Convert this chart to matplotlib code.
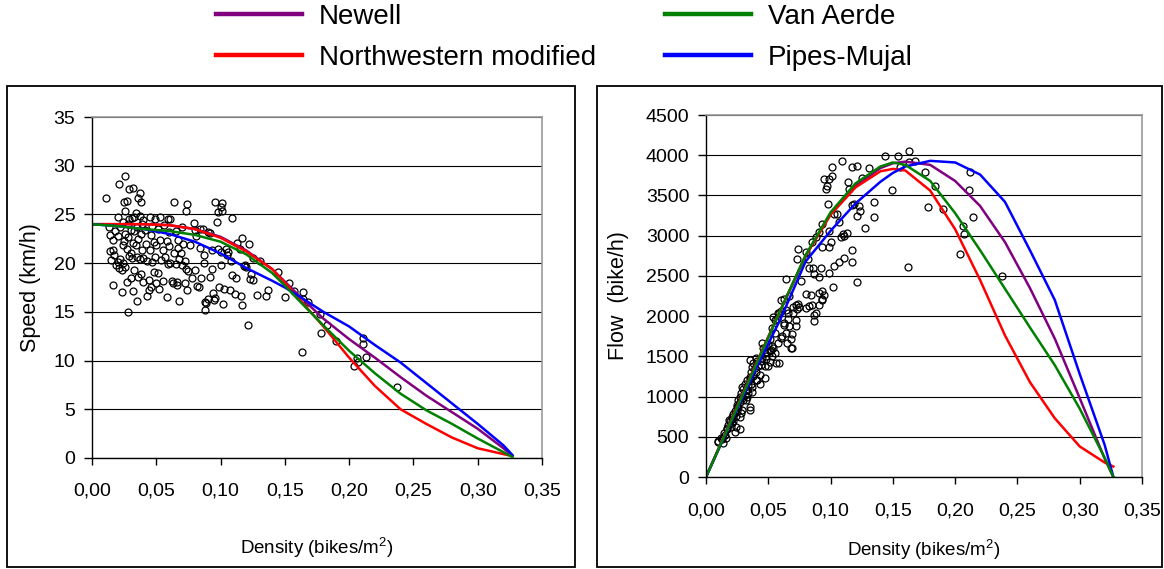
import numpy as np
import matplotlib.pyplot as plt
from matplotlib.patches import Rectangle
from matplotlib.lines import Line2D
from matplotlib.ticker import FuncFormatter, MultipleLocator

plt.rcParams['font.family'] = ['Liberation Sans', 'DejaVu Sans']
plt.rcParams['mathtext.fontset'] = 'custom'
plt.rcParams['mathtext.rm'] = 'Liberation Sans'

# observed speed-density points (left panel)
dens_obs_v = [0.011, 0.013, 0.014, 0.014, 0.015, 0.016, 0.016, 0.016, 0.017, 0.018, 0.019, 0.020, 0.020, 0.020,
              0.021, 0.021, 0.022, 0.022, 0.023, 0.023, 0.024, 0.024, 0.024, 0.025, 0.025, 0.026, 0.026, 0.026,
              0.026, 0.027, 0.027, 0.027, 0.028, 0.028, 0.028, 0.029, 0.029, 0.029, 0.030, 0.030, 0.030,
              0.031, 0.031, 0.032, 0.032, 0.032, 0.033, 0.033, 0.033, 0.034, 0.034, 0.035, 0.035, 0.035, 0.036,
              0.036, 0.036, 0.037, 0.037, 0.037, 0.038, 0.038, 0.038, 0.039, 0.039, 0.040, 0.040, 0.040,
              0.041, 0.042, 0.043, 0.043, 0.044, 0.044, 0.045, 0.045, 0.046, 0.046, 0.047, 0.047, 0.048, 0.048,
              0.049, 0.049, 0.050, 0.050,
              0.051, 0.051, 0.052, 0.053, 0.053, 0.054, 0.055, 0.055, 0.056, 0.057, 0.058, 0.058, 0.059, 0.059,
              0.060, 0.060,
              0.061, 0.061, 0.062, 0.063, 0.064, 0.064, 0.065, 0.065, 0.066, 0.066, 0.067, 0.067, 0.068, 0.068,
              0.069, 0.070, 0.070,
              0.071, 0.072, 0.072, 0.073, 0.073, 0.074, 0.074, 0.075, 0.076, 0.078, 0.079, 0.080, 0.080,
              0.081, 0.082, 0.083, 0.084, 0.084, 0.085, 0.086, 0.087, 0.087, 0.088, 0.088, 0.089, 0.090, 0.090,
              0.092, 0.092, 0.093, 0.093, 0.094, 0.095, 0.096, 0.096, 0.097, 0.098, 0.098, 0.099, 0.100, 0.100,
              0.100,
              0.101, 0.101, 0.102, 0.103, 0.104, 0.105, 0.106, 0.107, 0.108, 0.109, 0.109, 0.111, 0.112, 0.113,
              0.115, 0.116, 0.117, 0.117, 0.118, 0.119, 0.120, 0.121, 0.122,
              0.123, 0.124, 0.125, 0.125, 0.128, 0.131, 0.135, 0.137, 0.145, 0.150, 0.153, 0.157, 0.164, 0.164,
              0.163, 0.168, 0.177, 0.178, 0.183, 0.190, 0.204, 0.206, 0.207, 0.211, 0.211, 0.213, 0.237]
speed_obs = [26.7, 23.7, 22.9, 21.2, 20.3, 22.4, 21.3, 17.8, 20.8, 23.3, 19.8, 24.7, 22.8, 20.1,
             28.1, 19.5, 23.7, 20.4, 19.3, 17.0, 24.2, 20.0, 21.9, 26.3, 22.3, 28.9, 25.4, 19.6,
             23.0, 26.4, 21.5, 18.1, 15.0, 22.7, 24.0, 27.6, 24.5, 20.7, 18.5, 23.4, 21.0,
             24.6, 20.5, 27.7, 17.1, 22.1, 24.7, 23.3, 19.3, 25.1, 21.9, 16.1, 20.6, 23.7, 26.7,
             18.6, 22.5, 27.2, 24.8, 20.4, 26.3, 18.9, 23.0, 21.3, 24.0, 24.4, 18.1, 20.5,
             23.4, 22.0, 16.6, 20.2, 18.3, 17.2, 24.7, 21.4, 22.9, 17.6, 20.1, 23.8, 19.1, 22.2,
             24.5, 20.6, 18.0, 21.9,
             19.0, 23.5, 17.3, 24.7, 22.4, 20.3, 18.2, 21.3, 23.9, 20.6, 22.3, 16.5, 24.5, 19.9,
             21.8, 23.2,
             24.5, 20.0, 18.2, 18.0, 26.3, 21.0, 23.3, 19.9, 17.8, 18.1, 21.6, 22.4, 16.1, 20.4,
             21.0, 19.8, 23.7,
             22.0, 18.0, 20.2, 25.4, 19.4, 26.1, 17.2, 19.2, 21.9, 18.5, 24.1, 23.4, 19.3,
             22.8, 17.7, 17.6, 23.5, 21.6, 18.5, 23.5, 20.0, 20.8, 15.2, 16.0, 15.9, 23.2, 16.3,
             23.1, 18.6, 19.4, 21.4, 16.9, 16.2, 26.3, 16.4, 24.2, 25.3, 21.5, 17.6, 25.8, 19.8,
             21.1,
             26.2, 25.4, 15.8, 17.3, 21.5, 20.8, 21.1, 17.2, 20.2, 24.6, 18.8, 16.8, 18.5, 22.1,
             21.5, 16.6, 22.6, 15.7, 19.7, 19.8, 19.6, 13.7, 22.0,
             18.4, 18.9, 20.5, 18.3, 16.7, 20.2, 16.6, 17.2, 19.1, 16.5, 18.0, 17.1, 17.0, 16.3,
             10.9, 16.0, 14.8, 12.8, 13.6, 12.0, 9.4, 10.3, 9.9, 12.3, 11.7, 10.4, 7.3]

# observed flow-density points (right panel)
dens_obs_q = [0.0094, 0.0134, 0.016, 0.0147, 0.0187, 0.021, 0.024, 0.021, 0.027, 0.029, 0.025, 0.032, 0.035,
              0.027, 0.033, 0.037, 0.029, 0.040, 0.035, 0.043, 0.047, 0.037, 0.044, 0.035, 0.040, 0.051,
              0.056, 0.047, 0.054, 0.058, 0.060, 0.064, 0.068, 0.055, 0.059, 0.064, 0.070, 0.075, 0.080,
              0.087, 0.063, 0.072, 0.023, 0.017, 0.012,
              0.010, 0.013, 0.015, 0.017, 0.018, 0.019, 0.020, 0.021, 0.022, 0.022, 0.023, 0.024, 0.025,
              0.025, 0.026, 0.026, 0.027, 0.028, 0.028, 0.029, 0.030, 0.030, 0.031, 0.031, 0.032, 0.033,
              0.033, 0.034, 0.034, 0.035, 0.036, 0.036, 0.037, 0.038, 0.038, 0.039, 0.040, 0.041, 0.041,
              0.042, 0.043, 0.044, 0.045, 0.046, 0.047, 0.048, 0.049, 0.050, 0.052, 0.053, 0.0276, 0.035,
              0.060, 0.063, 0.067, 0.072, 0.073, 0.074, 0.070, 0.066, 0.067, 0.072, 0.069, 0.068, 0.069,
              0.065, 0.061, 0.057, 0.054, 0.053, 0.055, 0.058, 0.060, 0.063, 0.066, 0.051, 0.053, 0.055,
              0.059, 0.051, 0.048, 0.050, 0.045,
              0.080, 0.084, 0.083, 0.085, 0.088, 0.087, 0.091, 0.093, 0.095, 0.093, 0.091, 0.093,
              0.103, 0.105, 0.107, 0.110, 0.113, 0.111, 0.108, 0.093, 0.091, 0.088, 0.099, 0.099, 0.100,
              0.093, 0.085, 0.074, 0.073, 0.080, 0.082, 0.083, 0.086, 0.087, 0.092, 0.091, 0.099, 0.103,
              0.107, 0.111, 0.117, 0.117, 0.121, 0.102, 0.064, 0.076,
              0.109, 0.101, 0.101, 0.099, 0.097, 0.096, 0.095, 0.098, 0.117, 0.121, 0.114, 0.115, 0.131,
              0.125, 0.117, 0.119, 0.123, 0.124, 0.121, 0.128, 0.135, 0.135, 0.144, 0.154, 0.156, 0.163,
              0.163, 0.168, 0.149, 0.176, 0.184, 0.178, 0.190, 0.162, 0.204, 0.206, 0.207, 0.212, 0.211,
              0.214, 0.238]
flow_obs = [443, 419, 481, 544, 709, 669, 627, 750, 750, 833, 875, 958, 875,
            1000, 1082, 1123, 1123, 1206, 1247, 1268, 1226, 1371, 1392, 1454, 1475, 1434,
            1413, 1537, 1600, 1661, 1723, 1785, 1600, 1952, 2035, 2075, 2117, 2117, 2097,
            2014, 1890, 1952, 564, 606, 481,
            430, 470, 520, 600, 650, 700, 620, 720, 690, 780, 820, 760, 900,
            820, 960, 870, 930, 1050, 800, 980, 1100, 960, 1020, 1160, 1080, 1200,
            1000, 1140, 1050, 1220, 1300, 1150, 1060, 1420, 1250, 1350, 1300, 1440, 1200,
            1380, 1150, 1440, 1480, 1600, 1380, 1500, 1550, 1650, 1580, 1500, 602, 839,
            2198, 2210, 2251, 2135, 2085, 2148, 2044, 2044, 1878, 1878, 1774, 1711, 1608,
            1670, 1753, 1961, 1994, 1857, 1795, 2044, 2064, 1919, 1961, 1711, 1628, 1545,
            1421, 1566, 1462, 1379, 1670,
            2272, 2260, 2127, 2139, 2044, 1940, 2293, 2314, 2260, 2202, 2143, 2210,
            3269, 3269, 3165, 3020, 3032, 2999, 2978, 3144, 3041, 2978, 3061, 2854, 2916,
            2854, 2916, 2833, 2708, 2791, 2708, 2604, 2604, 2521, 2596, 2480, 2542, 2625,
            2675, 2721, 2825, 2667, 2430, 2368, 2467, 2438,
            3934, 3851, 3747, 3705, 3614, 3581, 3705, 3394, 3851, 3872, 3664, 3581, 3838,
            3718, 3381, 3394, 3373, 3311, 3248, 3091, 3415, 3228, 3988, 3988, 3851, 4058,
            3913, 3930, 3568, 3788, 3622, 3352, 3331, 2605, 2771, 3124, 3016, 3788, 3568,
            3232, 2501]

# model curves
models = ['Newell', 'Northwestern modified', 'Van Aerde', 'Pipes-Mujal']
colors = ['#800080', '#ff0000', '#008000', '#0000ff']
dens_fit = [0, 0.02, 0.04, 0.06, 0.08, 0.10, 0.12, 0.14, 0.15, 0.16, 0.18, 0.20, 0.22, 0.24, 0.26, 0.28,
            0.30, 0.32, 0.327]
speed_newell = [24.0, 24.0, 24.0, 23.9, 23.5, 22.7, 21.3, 19.4, 18.1, 16.8, 14.3, 12.2, 10.3, 8.3, 6.4, 4.7,
                3.0, 1.0, 0.2]
speed_nw = [24.0, 24.0, 24.0, 23.9, 23.5, 22.6, 21.2, 19.4, 18.0, 16.5, 13.5, 10.3, 7.4, 5.0, 3.5, 2.1,
            1.0, 0.4, 0.2]
speed_va = [24.0, 23.8, 23.5, 23.3, 22.9, 22.2, 20.9, 19.0, 17.7, 16.3, 13.6, 11.0, 8.7, 6.6, 4.9, 3.5,
            2.0, 0.6, 0.1]
speed_pm = [24.0, 23.8, 23.5, 23.0, 22.2, 21.0, 19.5, 18.2, 17.5, 16.7, 15.0, 13.5, 11.6, 9.8, 7.7, 5.6,
            3.5, 1.3, 0.3]
flow_newell = [0, 700, 1400, 2080, 2750, 3270, 3620, 3840, 3900, 3920, 3880, 3680, 3370, 2920, 2350, 1720,
               980, 230, 0]
flow_nw = [0, 700, 1400, 2080, 2750, 3260, 3600, 3800, 3830, 3810, 3560, 3080, 2450, 1760, 1180, 730,
           380, 180, 130]
flow_va = [0, 690, 1390, 2080, 2760, 3290, 3650, 3860, 3910, 3880, 3680, 3280, 2820, 2340, 1860, 1390,
           850, 240, 0]
flow_pm = [0, 680, 1340, 1970, 2680, 3060, 3400, 3670, 3780, 3860, 3930, 3910, 3760, 3420, 2820, 2200,
           1280, 400, 0]

speed_fits = [speed_newell, speed_nw, speed_va, speed_pm]
flow_fits = [flow_newell, flow_nw, flow_va, flow_pm]
draw_order = [0, 1, 3, 2]

fig = plt.figure(figsize=(11.64, 5.69), dpi=100)
W, H = 1164, 569

# panel frames
for x0, x1 in [(7, 575), (597, 1162)]:
    fig.add_artist(Rectangle((x0 / W, (H - 567) / H), (x1 - x0) / W, (567 - 86) / H,
                             transform=fig.transFigure, fill=False, ec='black', lw=1.3))

ax1 = fig.add_axes([92 / W, (H - 458) / H, 450 / W, 341 / H])
ax2 = fig.add_axes([706 / W, (H - 477) / H, 436 / W, 362 / H])

comma = FuncFormatter(lambda v, p: f"{v:.2f}".replace('.', ','))


def style(ax, ymax, ystep):
    ax.set_xlim(0, 0.35)
    ax.set_ylim(0, ymax)
    ax.xaxis.set_major_locator(MultipleLocator(0.05))
    ax.yaxis.set_major_locator(MultipleLocator(ystep))
    ax.xaxis.set_major_formatter(comma)
    ax.set_axisbelow(True)
    ax.yaxis.grid(True, color='black', lw=0.8)
    for s in ['top', 'right']:
        ax.spines[s].set_color('#999999')
        ax.spines[s].set_linewidth(1.2)
    for s in ['left', 'bottom']:
        ax.spines[s].set_linewidth(1.0)
    ax.tick_params(axis='x', direction='out', length=5, width=1, labelsize=14, pad=13)
    ax.tick_params(axis='y', direction='out', length=6, width=1, labelsize=14, pad=6)


style(ax1, 35, 5)
style(ax2, 4500, 500)

ax1.plot(dens_obs_v, speed_obs, 'o', mfc='none', mec='black', ms=5, mew=0.9)
ax2.plot(dens_obs_q, flow_obs, 'o', mfc='none', mec='black', ms=5, mew=0.9)
for i in draw_order:
    ax1.plot(dens_fit, speed_fits[i], color=colors[i], lw=1.8)
    ax2.plot(dens_fit, flow_fits[i], color=colors[i], lw=1.8)

ax1.set_ylabel('Speed (km/h)', fontsize=15.5, labelpad=9)
ax2.set_ylabel('Flow  (bike/h)', fontsize=15.5, labelpad=12)
ax1.set_xlabel('Density (bikes/m$^2$)', fontsize=13.5, labelpad=25)
ax2.set_xlabel('Density (bikes/m$^2$)', fontsize=13.5, labelpad=13)

handles = [Line2D([], [], color=c, lw=3.2) for c in colors]
fig.legend(handles, models, ncol=2, loc='upper left', bbox_to_anchor=(213 / W, 1.0 - 1 / H),
           frameon=False, fontsize=20, handlelength=3.1, handletextpad=0.6,
           columnspacing=2.5, labelspacing=0.55, borderaxespad=0, borderpad=0.1)

fig.savefig('out.png', dpi=100)
